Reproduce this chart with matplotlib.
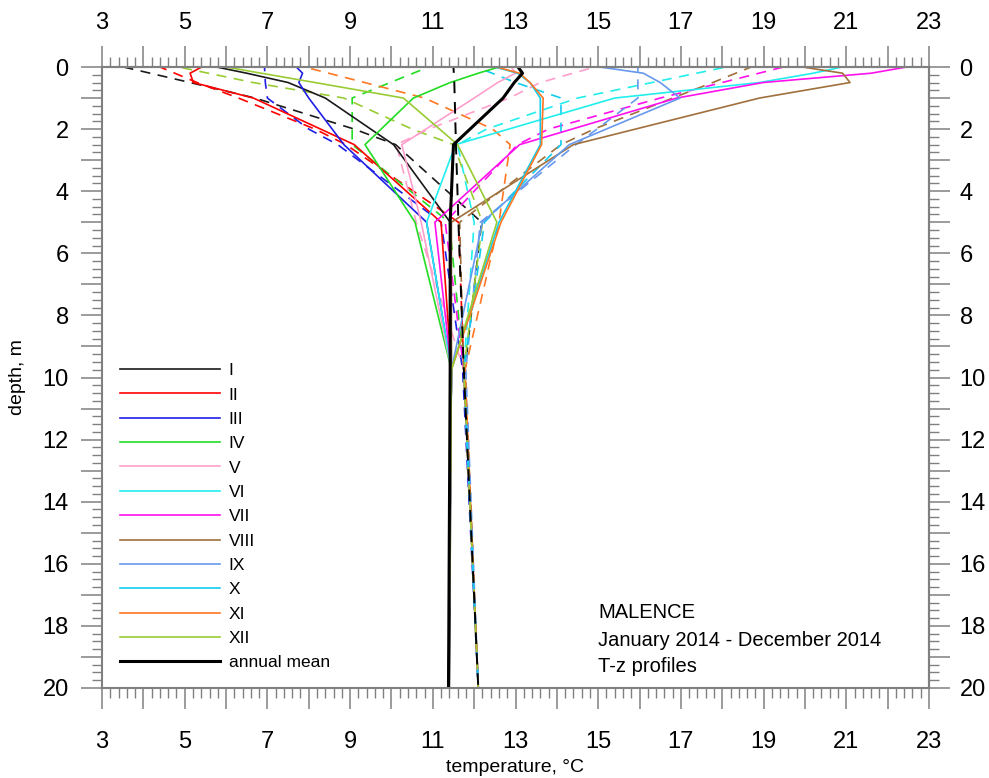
import numpy as np
import matplotlib
matplotlib.use('Agg')
import matplotlib.pyplot as plt
from matplotlib.ticker import MultipleLocator, FuncFormatter
from matplotlib.lines import Line2D

plt.rcParams['font.family'] = ['Liberation Sans', 'DejaVu Sans']

months = ['I', 'II', 'III', 'IV', 'V', 'VI', 'VII', 'VIII', 'IX', 'X', 'XI', 'XII']
colors = ['#1a1a1a', '#ff0000', '#1f1fe6', '#22dd22', '#ff9fcc', '#22eeee',
          '#ff11ee', '#a0703c', '#6699ee', '#11ccee', '#ff7722', '#99cc33']

# depths of the solid profiles and of the dashed profiles, m
depth_solid = [0, 0.2, 0.5, 1, 2.5, 5, 9.75, 20]
depth_dash = [0, 0.5, 1, 2, 2.5, 5, 9.75, 20]

# solid profiles, temperature in deg C
solid_I = [5.77, 6.5, 7.5, 8.4, 10.05, 11.42, 11.45, 11.40]
solid_II = [5.41, 5.13, 5.21, 6.66, 9.10, 11.20, 11.45, 11.38]
solid_III = [7.70, 7.85, 7.76, 8.00, 8.85, 10.85, 11.45, 11.38]
solid_IV = [12.60, 12.10, 11.42, 10.53, 9.36, 10.57, 11.45, 11.38]
solid_V = [12.90, 13.00, 12.57, 12.00, 10.25, 10.72, 11.45, 11.38]
solid_VI = [20.90, 20.20, 18.90, 15.40, 11.55, 10.85, 11.45, 11.38]
solid_VII = [22.46, 21.60, 18.99, 16.90, 13.10, 11.05, 11.45, 11.38]
solid_VIII = [19.94, 20.91, 21.09, 18.90, 14.40, 11.45, 11.45, 11.38]
solid_IX = [15.04, 16.09, 16.50, 16.98, 14.30, 12.20, 11.45, 11.38]
solid_X = [12.50, 13.05, 13.35, 13.60, 13.60, 12.60, 11.45, 11.38]
solid_XI = [12.54, 13.10, 13.35, 13.67, 13.63, 12.65, 11.45, 11.38]
solid_XII = [6.00, 6.85, 8.15, 10.29, 11.60, 12.55, 11.45, 11.38]
solid_mean = [13.06, 13.17, 12.97, 12.70, 11.50, 11.42, 11.42, 11.38]

# dashed profiles
dash_I = [3.52, 5.13, 6.70, 9.10, 10.10, 12.18, 11.78, 12.10]
dash_II = [4.40, 5.30, 6.30, 8.15, 8.90, 11.62, 11.75, 12.10]
dash_III = [6.93, 6.95, 7.00, 8.00, 8.70, 11.20, 11.72, 12.10]
dash_IV = [10.90, 9.97, 9.05, 9.05, 9.05, 11.40, 11.75, 12.10]
dash_V = [14.92, 13.60, 12.85, 10.90, 10.12, 10.60, 11.75, 12.10]
dash_VI = [18.10, 16.30, 14.50, 12.30, 11.60, 12.00, 11.75, 12.10]
dash_VII = [19.48, 18.00, 16.50, 13.80, 13.05, 11.30, 11.75, 12.10]
dash_VIII = [18.70, 17.77, 16.80, 14.90, 14.10, 11.65, 11.75, 12.10]
dash_IX = [15.96, 15.96, 15.96, 14.97, 14.46, 12.15, 11.80, 12.10]
dash_X = [12.06, 13.00, 14.10, 14.10, 14.10, 12.25, 11.75, 12.10]
dash_XI = [7.90, 9.35, 10.80, 12.45, 12.87, 12.60, 11.78, 12.10]
dash_XII = [4.85, 6.65, 8.85, 10.50, 11.50, 12.20, 11.75, 12.10]
dash_mean = [11.50, 11.52, 11.53, 11.55, 11.56, 11.62, 11.75, 12.10]

solid = [solid_I, solid_II, solid_III, solid_IV, solid_V, solid_VI, solid_VII,
         solid_VIII, solid_IX, solid_X, solid_XI, solid_XII]
dashed = [dash_I, dash_II, dash_III, dash_IV, dash_V, dash_VI, dash_VII,
          dash_VIII, dash_IX, dash_X, dash_XI, dash_XII]

W, H = 989, 778
fig = plt.figure(figsize=(W / 100, H / 100), dpi=100)
ax = fig.add_axes([102 / W, 1 - 688 / H, 827 / W, 621 / H])

# shift the dash phase a bit per line so the deep bundle looks mixed
for i in range(12):
    ax.plot(dashed[i], depth_dash, color=colors[i], lw=1.2,
            linestyle=(i * 1.7, (6, 4.5)))
for i in range(12):
    ax.plot(solid[i], depth_solid, color=colors[i], lw=1.2)
ax.plot(dash_mean, depth_dash, color='black', lw=1.4, linestyle=(3, (6, 4.5)))
ax.plot(solid_mean, depth_solid, color='black', lw=2.2)

ax.set_xlim(3, 23)
ax.set_ylim(20, 0)

tc = '#808080'
odd = FuncFormatter(lambda v, p: '%d' % v if int(round(v)) % 2 == 1 else '')
even = FuncFormatter(lambda v, p: '%d' % v if int(round(v)) % 2 == 0 else '')

top = ax.secondary_xaxis('top')
right = ax.secondary_yaxis('right')
for a in [ax.xaxis, top.xaxis]:
    a.set_major_locator(MultipleLocator(1))
    a.set_minor_locator(MultipleLocator(0.2))
    a.set_major_formatter(odd)
for a in [ax.yaxis, right.yaxis]:
    a.set_major_locator(MultipleLocator(1))
    a.set_minor_locator(MultipleLocator(0.25))
    a.set_major_formatter(even)

for a in [ax, top, right]:
    a.tick_params(which='both', direction='out', color=tc, labelsize=17)
    a.tick_params(which='major', length=15, width=1.1)
    a.tick_params(which='minor', length=7.5, width=1.0)
    for s in a.spines.values():
        s.set_color(tc)
        s.set_linewidth(1.5)
top.tick_params(axis='x', pad=9)
right.tick_params(axis='y', pad=7)
ax.tick_params(axis='x', pad=16)
ax.tick_params(axis='y', pad=9)

ax.set_xlabel('temperature, °C', fontsize=14, labelpad=4)
ax.set_ylabel('depth, m', fontsize=14, labelpad=12)

handles = [Line2D([], [], color=c, lw=1.2) for c in colors]
handles.append(Line2D([], [], color='black', lw=2.2))
ax.legend(handles, months + ['annual mean'], loc='upper left',
          bbox_to_anchor=(120 / W, 1 - 363 / H), bbox_transform=fig.transFigure,
          frameon=False, fontsize=12.5, handlelength=5.75, handletextpad=0.52,
          labelspacing=0.53, borderpad=0, borderaxespad=0)

fig.text(598 / W, 1 - 612 / H, 'MALENCE', fontsize=14.5, va='center')
fig.text(598 / W, 1 - 640 / H, 'January 2014 - December 2014', fontsize=14.5, va='center')
fig.text(598 / W, 1 - 667 / H, 'T-z profiles', fontsize=14.5, va='center')

fig.savefig('out.png', dpi=100)
